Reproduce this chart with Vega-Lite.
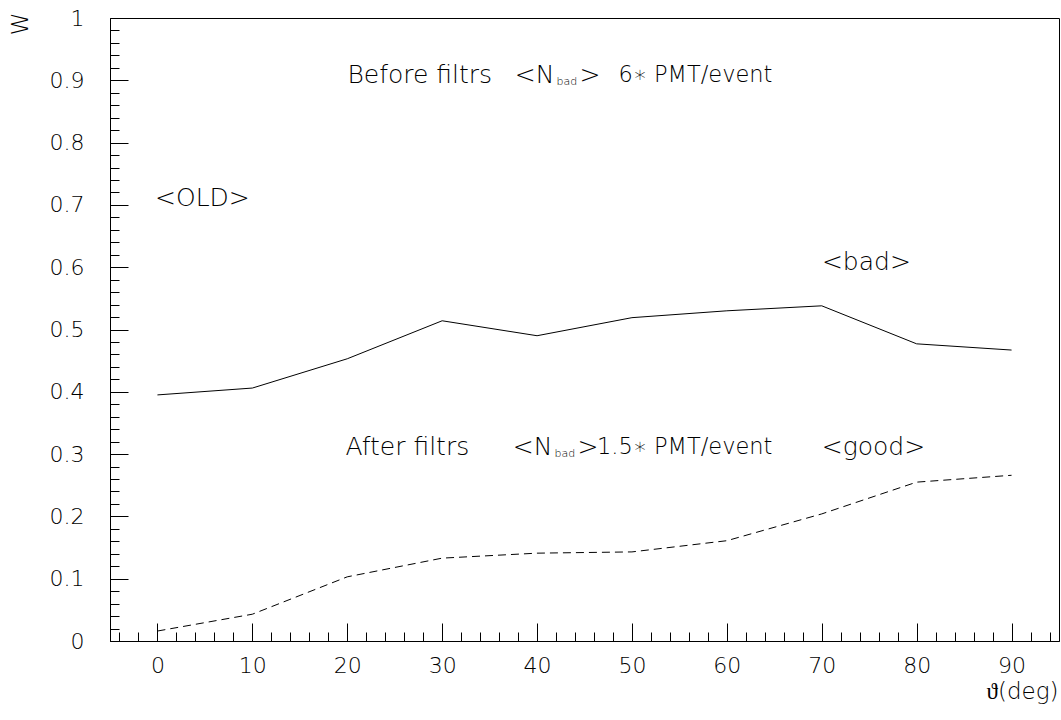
{
  "$schema": "https://vega.github.io/schema/vega-lite/v6.json",
  "width": 949,
  "height": 623,
  "autosize": {"type": "none"},
  "padding": {"left": 110, "top": 18, "right": 2, "bottom": 79},
  "background": "white",
  "config": {
    "view": {"stroke": "black", "strokeWidth": 1},
    "font": "DejaVu Sans",
    "text": {"font": "DejaVu Sans", "fontWeight": 200, "fontSize": 25, "color": "black"},
    "axis": {"grid": false, "domainColor": "black", "tickColor": "black", "labelColor": "black", "titleColor": "black", "labelFont": "DejaVu Sans", "labelFontWeight": 200, "labelFontSize": 22, "titleFont": "DejaVu Sans", "titleFontWeight": 200, "titleFontSize": 23}
  },
  "datasets": {
    "before": [
      {"theta": 0, "W": 0.395},
      {"theta": 10, "W": 0.406},
      {"theta": 20, "W": 0.453},
      {"theta": 30, "W": 0.514},
      {"theta": 40, "W": 0.490},
      {"theta": 50, "W": 0.519},
      {"theta": 60, "W": 0.530},
      {"theta": 70, "W": 0.538},
      {"theta": 80, "W": 0.477},
      {"theta": 90, "W": 0.467}
    ],
    "after": [
      {"theta": 0, "W": 0.016},
      {"theta": 10, "W": 0.043},
      {"theta": 20, "W": 0.103},
      {"theta": 30, "W": 0.133},
      {"theta": 40, "W": 0.141},
      {"theta": 50, "W": 0.143},
      {"theta": 60, "W": 0.161},
      {"theta": 70, "W": 0.204},
      {"theta": 80, "W": 0.255},
      {"theta": 90, "W": 0.266}
    ],
    "textLeft": [
      {"x": 20.02, "y": 0.908, "t": "Before filtrs"},
      {"x": 44.47, "y": 0.908, "t": ">"},
      {"x": 19.81, "y": 0.311, "t": "After filtrs"},
      {"x": 44.26, "y": 0.311, "t": ">"}
    ],
    "textRight": [
      {"x": 41.83, "y": 0.908, "t": "<N"},
      {"x": 41.62, "y": 0.311, "t": "<N"}
    ],
    "textRate": [
      {"x": 64.8, "y": 0.908, "t": "6∗ PMT/event"},
      {"x": 64.8, "y": 0.311, "t": "1.5∗ PMT/event"}
    ],
    "textCenter": [
      {"x": 4.74, "y": 0.711, "t": "<OLD>"},
      {"x": 74.7, "y": 0.608, "t": "<bad>"},
      {"x": 75.45, "y": 0.311, "t": "<good>"}
    ],
    "textSub": [
      {"x": 42.04, "y": 0.8965, "t": "bad"},
      {"x": 41.83, "y": 0.2994, "t": "bad"}
    ]
  },
  "resolve": {"axis": {"x": "independent", "y": "independent"}},
  "layer": [
    {
      "data": {"name": "before"},
      "mark": {"type": "line", "color": "black", "strokeWidth": 1},
      "encoding": {
        "x": {"field": "theta", "type": "quantitative", "scale": {"domain": [-5, 95], "nice": false, "zero": false},
          "axis": {"orient": "bottom", "values": [0, 10, 20, 30, 40, 50, 60, 70, 80, 90], "tickSize": -18, "labelPadding": 32, "labelFlush": false, "labelOverlap": false, "title": "ϑ(deg)", "titleAnchor": "end", "titleAlign": "right", "titleBaseline": "middle", "titleX": 948, "titleY": 50}},
        "y": {"field": "W", "type": "quantitative", "scale": {"domain": [0, 1], "nice": false},
          "axis": {"orient": "left", "format": "~g", "values": [0, 0.1, 0.2, 0.3, 0.4, 0.5, 0.6, 0.7, 0.8, 0.9, 1], "tickSize": -18, "labelPadding": 44, "labelFlush": false, "labelOverlap": false, "labelBaseline": "middle", "title": "W", "titleAnchor": "end", "titleAngle": -90, "titleAlign": "right", "titleBaseline": "middle", "titleX": -90, "titleY": -6}}
      }
    },
    {
      "data": {"name": "after"},
      "mark": {"type": "line", "color": "black", "strokeWidth": 1, "strokeDash": [8, 5]},
      "encoding": {
        "x": {"field": "theta", "type": "quantitative",
          "axis": {"orient": "bottom", "values": [-4, -2, 2, 4, 6, 8, 12, 14, 16, 18, 22, 24, 26, 28, 32, 34, 36, 38, 42, 44, 46, 48, 52, 54, 56, 58, 62, 64, 66, 68, 72, 74, 76, 78, 82, 84, 86, 88, 92, 94], "tickSize": -9, "labels": false, "domain": false, "title": null}},
        "y": {"field": "W", "type": "quantitative",
          "axis": {"orient": "left", "values": [0.02, 0.04, 0.06, 0.08, 0.12, 0.14, 0.16, 0.18, 0.22, 0.24, 0.26, 0.28, 0.32, 0.34, 0.36, 0.38, 0.42, 0.44, 0.46, 0.48, 0.52, 0.54, 0.56, 0.58, 0.62, 0.64, 0.66, 0.68, 0.72, 0.74, 0.76, 0.78, 0.82, 0.84, 0.86, 0.88, 0.92, 0.94, 0.96, 0.98], "tickSize": -9, "labels": false, "domain": false, "title": null}}
      }
    },
    {
      "data": {"name": "textLeft"},
      "mark": {"type": "text", "align": "left", "baseline": "middle"},
      "encoding": {
        "x": {"field": "x", "type": "quantitative", "axis": null},
        "y": {"field": "y", "type": "quantitative", "axis": null},
        "text": {"field": "t"}
      }
    },
    {
      "data": {"name": "textRight"},
      "mark": {"type": "text", "align": "right", "baseline": "middle"},
      "encoding": {
        "x": {"field": "x", "type": "quantitative", "axis": null},
        "y": {"field": "y", "type": "quantitative", "axis": null},
        "text": {"field": "t"}
      }
    },
    {
      "data": {"name": "textRate"},
      "mark": {"type": "text", "align": "right", "baseline": "middle", "fontSize": 22.5},
      "encoding": {
        "x": {"field": "x", "type": "quantitative", "axis": null},
        "y": {"field": "y", "type": "quantitative", "axis": null},
        "text": {"field": "t"}
      }
    },
    {
      "data": {"name": "textCenter"},
      "mark": {"type": "text", "align": "center", "baseline": "middle"},
      "encoding": {
        "x": {"field": "x", "type": "quantitative", "axis": null},
        "y": {"field": "y", "type": "quantitative", "axis": null},
        "text": {"field": "t"}
      }
    },
    {
      "data": {"name": "textSub"},
      "mark": {"type": "text", "align": "left", "baseline": "middle", "fontSize": 11},
      "encoding": {
        "x": {"field": "x", "type": "quantitative", "axis": null},
        "y": {"field": "y", "type": "quantitative", "axis": null},
        "text": {"field": "t"}
      }
    }
  ]
}
